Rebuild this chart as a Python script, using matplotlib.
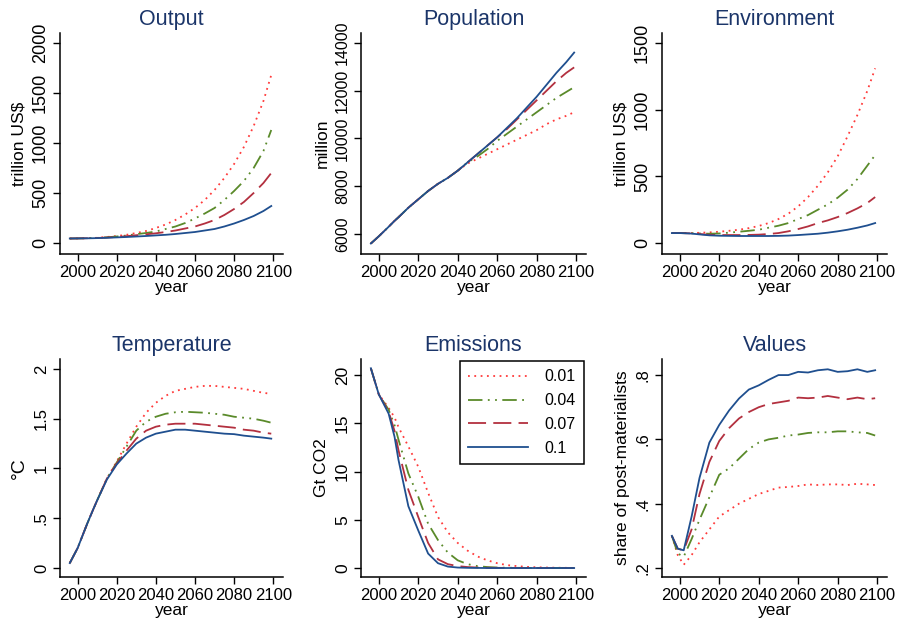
"""
Six-panel scenario comparison: output, population, environment,
temperature, emissions and values for four parameter settings.
"""
import matplotlib

matplotlib.use("Agg")
import matplotlib.pyplot as plt

plt.rcParams["font.family"] = ["Liberation Sans", "DejaVu Sans"]

# scenario labels
labels = ["0.01", "0.04", "0.07", "0.1"]

years = [1996, 2000, 2005, 2008, 2010, 2015, 2020, 2025, 2030, 2035, 2040, 2045,
         2050, 2055, 2060, 2065, 2070, 2075, 2080, 2085, 2090, 2095, 2099]
years_v = [1996, 1999, 2002, 2006, 2010, 2015, 2020, 2025, 2030, 2035, 2040,
           2045, 2050, 2055, 2060, 2065, 2070, 2075, 2080, 2085, 2090, 2095, 2099]

# Output, trillion US$
output = [
    [45, 46, 48, 50, 52, 60, 70, 82, 100, 120, 150, 185, 230, 285, 350, 430, 530, 650, 790, 960, 1170, 1420, 1680],
    [45, 46, 48, 50, 51, 57, 65, 75, 88, 100, 115, 140, 165, 200, 245, 295, 350, 430, 520, 620, 750, 920, 1130],
    [45, 46, 48, 49, 50, 55, 60, 68, 78, 87, 97, 110, 125, 145, 165, 195, 230, 280, 340, 410, 500, 600, 700],
    [45, 46, 47, 48, 49, 52, 56, 60, 65, 70, 76, 82, 90, 100, 110, 125, 140, 165, 195, 230, 270, 320, 370],
]

# Population, million
population = [
    [5600, 5900, 6300, 6550, 6700, 7100, 7450, 7800, 8100, 8350, 8650, 8950, 9150, 9350, 9550, 9750, 9950, 10150, 10350, 10600, 10800, 10950, 11100],
    [5600, 5900, 6300, 6550, 6700, 7100, 7450, 7800, 8100, 8350, 8650, 9000, 9250, 9550, 9900, 10200, 10500, 10800, 11100, 11400, 11700, 11950, 12150],
    [5600, 5900, 6300, 6550, 6700, 7100, 7450, 7800, 8100, 8350, 8650, 9000, 9350, 9700, 10050, 10400, 10800, 11200, 11600, 12000, 12400, 12750, 12980],
    [5600, 5900, 6300, 6550, 6700, 7100, 7450, 7800, 8100, 8350, 8650, 9000, 9350, 9700, 10050, 10450, 10850, 11300, 11750, 12250, 12750, 13200, 13600],
]

# Environment, trillion US$
environment = [
    [75, 75, 75, 76, 77, 80, 85, 92, 100, 112, 128, 150, 180, 220, 275, 345, 430, 530, 650, 800, 960, 1140, 1310],
    [75, 75, 74, 73, 72, 70, 72, 78, 85, 92, 100, 115, 130, 150, 180, 210, 250, 290, 340, 400, 480, 580, 660],
    [75, 75, 73, 70, 68, 62, 60, 60, 60, 61, 63, 68, 75, 88, 105, 125, 150, 170, 195, 225, 260, 300, 345],
    [75, 75, 72, 68, 65, 58, 55, 54, 53, 53, 53, 53, 54, 56, 60, 65, 70, 78, 88, 100, 115, 132, 150],
]

# Temperature, deg C
temperature = [
    [0.05, 0.2, 0.45, 0.59, 0.68, 0.9, 1.07, 1.25, 1.42, 1.56, 1.66, 1.73, 1.78, 1.80, 1.82, 1.83, 1.83, 1.82, 1.81, 1.80, 1.78, 1.76, 1.75],
    [0.05, 0.2, 0.45, 0.59, 0.68, 0.9, 1.06, 1.22, 1.38, 1.47, 1.52, 1.55, 1.565, 1.57, 1.565, 1.56, 1.55, 1.54, 1.52, 1.51, 1.50, 1.48, 1.46],
    [0.05, 0.2, 0.45, 0.59, 0.68, 0.9, 1.05, 1.18, 1.30, 1.38, 1.42, 1.44, 1.45, 1.45, 1.45, 1.44, 1.43, 1.42, 1.41, 1.39, 1.38, 1.36, 1.35],
    [0.05, 0.2, 0.45, 0.59, 0.68, 0.89, 1.04, 1.15, 1.25, 1.31, 1.35, 1.37, 1.39, 1.39, 1.38, 1.37, 1.36, 1.35, 1.345, 1.33, 1.32, 1.31, 1.30],
]

# Emissions, Gt CO2
emissions = [
    [20.7, 18.0, 16.6, 15.6, 14.6, 12.6, 10.5, 7.8, 5.3, 3.7, 2.6, 1.8, 1.2, 0.8, 0.5, 0.3, 0.2, 0.12, 0.08, 0.05, 0.03, 0.02, 0.01],
    [20.7, 18.0, 16.4, 14.8, 13.3, 9.8, 7.4, 4.6, 2.9, 1.6, 0.8, 0.4, 0.2, 0.1, 0.05, 0.03, 0.02, 0.01, 0.0, 0.0, 0.0, 0.0, 0.0],
    [20.7, 18.0, 16.2, 14.2, 12.2, 8.1, 5.3, 2.6, 0.9, 0.4, 0.2, 0.1, 0.05, 0.03, 0.02, 0.01, 0.0, 0.0, 0.0, 0.0, 0.0, 0.0, 0.0],
    [20.7, 18.0, 16.0, 13.6, 11.2, 6.4, 3.9, 1.5, 0.5, 0.15, 0.05, 0.02, 0.01, 0.0, 0.0, 0.0, 0.0, 0.0, 0.0, 0.0, 0.0, 0.0, 0.0],
]

# Values, share of post-materialists
values = [
    [0.30, 0.24, 0.21, 0.24, 0.28, 0.32, 0.36, 0.38, 0.40, 0.415, 0.43, 0.44, 0.45, 0.452, 0.455, 0.46, 0.458, 0.46, 0.46, 0.458, 0.462, 0.46, 0.458],
    [0.30, 0.245, 0.235, 0.29, 0.35, 0.42, 0.49, 0.51, 0.54, 0.57, 0.59, 0.60, 0.605, 0.612, 0.615, 0.62, 0.622, 0.622, 0.625, 0.625, 0.622, 0.62, 0.612],
    [0.30, 0.26, 0.255, 0.32, 0.43, 0.53, 0.595, 0.635, 0.665, 0.685, 0.70, 0.71, 0.715, 0.72, 0.73, 0.728, 0.73, 0.735, 0.73, 0.725, 0.73, 0.725, 0.728],
    [0.30, 0.26, 0.255, 0.36, 0.48, 0.59, 0.645, 0.69, 0.727, 0.755, 0.768, 0.785, 0.80, 0.80, 0.81, 0.808, 0.815, 0.818, 0.81, 0.812, 0.818, 0.81, 0.815],
]

colors = ["#ff3b3b", "#5a8a2a", "#b3303f", "#1f4f8f"]
styles = [(0, (1, 2.5)), (0, (8, 3, 1, 3, 1, 3)), (0, (10, 4)), "-"]
titleColor = "#1b3569"

W, H = 900.0, 628.0


def pixAxes(fig, left, top, right, bottom):
    return fig.add_axes([left / W, 1 - bottom / H, (right - left) / W, (bottom - top) / H])


def panel(ax, x, series, title, ylabel, ylim, yticks, yticklabels, ysize, labsize=12.5):
    for idx in range(4):
        ax.plot(x, series[idx], color=colors[idx], linestyle=styles[idx],
                linewidth=1.3, label=labels[idx])
    ax.set_xlim(1991, 2105)
    ax.set_ylim(*ylim)
    ax.set_xticks([2000, 2020, 2040, 2060, 2080, 2100])
    ax.set_yticks(yticks)
    ax.set_yticklabels(yticklabels, rotation=90, va="center")
    ax.tick_params(length=5, width=1, direction="out", pad=3)
    ax.tick_params(axis="x", labelsize=12)
    ax.tick_params(axis="y", labelsize=ysize)
    for side in ["top", "right"]:
        ax.spines[side].set_visible(False)
    for side in ["left", "bottom"]:
        ax.spines[side].set_linewidth(1.1)
    ax.set_title(title, color=titleColor, fontsize=15.5, pad=6)
    ax.set_xlabel("year", fontsize=12.5, labelpad=0)
    ax.set_ylabel(ylabel, fontsize=labsize, labelpad=4)


fig = plt.figure(figsize=(9, 6.28), dpi=100)

cols = [(60, 283), (361, 586), (662, 887)]
rows = [(33, 254), (359, 577)]

ax = pixAxes(fig, cols[0][0], rows[0][0], cols[0][1], rows[0][1])
panel(ax, years, output, "Output", "trillion US$", (-110, 2100),
      [0, 500, 1000, 1500, 2000], ["0", "500", "1000", "1500", "2000"], 13)

ax = pixAxes(fig, cols[1][0], rows[0][0], cols[1][1], rows[0][1])
panel(ax, years, population, "Population", "million", (5160, 14420),
      [6000, 8000, 10000, 12000, 14000], ["6000", "8000", "10000", "12000", "14000"], 11.5)

ax = pixAxes(fig, cols[2][0], rows[0][0], cols[2][1], rows[0][1])
panel(ax, years, environment, "Environment", "trillion US$", (-82, 1575),
      [0, 500, 1000, 1500], ["0", "500", "1000", "1500"], 13)

ax = pixAxes(fig, cols[0][0], rows[1][0], cols[0][1], rows[1][1])
panel(ax, years, temperature, "Temperature", "°C", (-0.09, 2.1),
      [0, 0.5, 1, 1.5, 2], ["0", ".5", "1", "1.5", "2"], 12, labsize=14)

ax = pixAxes(fig, cols[1][0], rows[1][0], cols[1][1], rows[1][1])
panel(ax, years, emissions, "Emissions", "Gt CO2", (-0.93, 21.66),
      [0, 5, 10, 15, 20], ["0", "5", "10", "15", "20"], 12.5)
leg = ax.legend(loc="upper right", fontsize=11.5, handlelength=3.8, borderaxespad=0.15,
                fancybox=False, edgecolor="black", framealpha=1, labelspacing=0.55,
                handletextpad=1.0, borderpad=0.5)
leg.get_frame().set_linewidth(1.1)

ax = pixAxes(fig, cols[2][0], rows[1][0], cols[2][1], rows[1][1])
panel(ax, years_v, values, "Values", "share of post-materialists", (0.172, 0.85),
      [0.2, 0.4, 0.6, 0.8], [".2", ".4", ".6", ".8"], 12)

fig.savefig("out.png", dpi=100, facecolor="white")
